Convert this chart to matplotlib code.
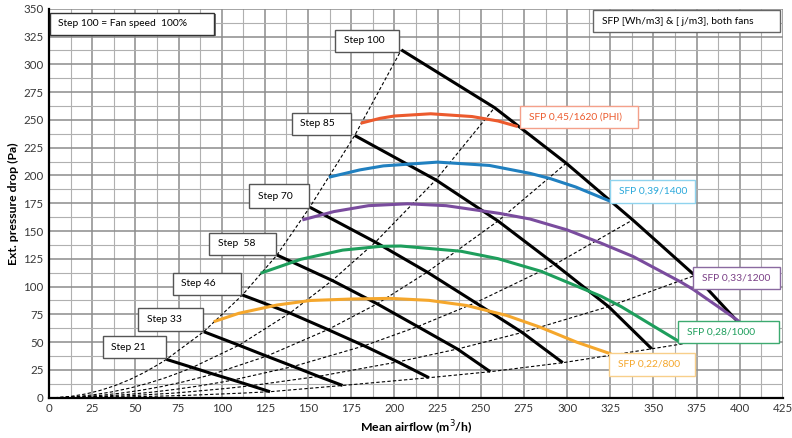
import matplotlib
matplotlib.use("Agg")
import matplotlib.pyplot as plt
from matplotlib.patches import Rectangle, PathPatch
from matplotlib.path import Path
from matplotlib.ticker import MultipleLocator

plt.rcParams['font.family'] = ['Lato', 'DejaVu Sans']

# fan curves (black), one point per system curve, steepest first
step_names = ["Step 21", "Step 33", "Step 46", "Step  58", "Step 70", "Step 85", "Step 100"]
fan_x = [
    [68, 83, 95, 106.5, 117, 128],
    [89.6, 110, 126, 141.5, 156, 170],
    [112, 139.5, 161.5, 182.5, 202, 220],
    [132, 164, 190, 213.5, 236.5, 255.5],
    [151, 189, 219, 247, 274, 297.5],
    [177, 224, 260, 293, 324, 349],
    [204, 258, 299.5, 338, 374, 405],
]
fan_y = [
    [34.5, 27.2, 21.3, 15.9, 10.8, 5.4],
    [59.4, 47.2, 37.4, 28.1, 19.2, 11],
    [92.4, 76.2, 61.3, 46.7, 32.2, 18],
    [128.4, 105.5, 84.5, 64, 43.8, 23.4],
    [171.4, 140, 113, 85.5, 58.7, 31.5],
    [236, 196, 159, 120, 82, 44],
    [313, 261, 211, 160, 110, 58],
]

# SFP curves
sfp_labels = ["SFP 0,45/1620 (PHI)", "SFP 0,39/1400", "SFP 0,33/1200", "SFP 0,28/1000", "SFP 0,22/800"]
sfp_colors = ["#EC5A2D", "#2080C0", "#7A4C9E", "#1E9E5C", "#F5A72C"]
sfp_text_colors = ["#EC5A2D", "#2AA8DA", "#7A3F86", "#1E9E5C", "#F5A72C"]
sfp_edge_colors = ["#F4A08A", "#8FD3EE", "#8A6AA0", "#3DAA70", "#F8CF8A"]
sfp_x = [
    [180.5, 191.7, 200, 221, 245, 260, 271.4],
    [162, 180, 193.6, 225, 255, 278.5, 290, 305, 325.6],
    [146.7, 165, 185, 207.6, 230, 261.1, 278.5, 300, 319, 338.3, 365.4, 373, 398, 400],
    [122.5, 145.7, 170, 192, 203.7, 238.5, 260, 285, 319.8, 331.4, 365],
    [95.4, 110, 132, 151.5, 175, 197.5, 220, 241.8, 265, 284.3, 305.5, 325.6],
]
sfp_y = [
    [247, 251.4, 253.5, 255.5, 253, 249, 244],
    [198.4, 205, 208.6, 212, 209, 201.9, 197.3, 189.6, 176.4],
    [160, 167.5, 172.8, 174.5, 172.8, 165.8, 160.8, 151, 139.5, 127, 104.5, 97.5, 70.5, 68],
    [112, 124.5, 132.8, 136.2, 136.5, 131.8, 125.1, 113.7, 91.2, 81.9, 50.4],
    [68.4, 76, 83.4, 87.5, 88.8, 89.4, 87.6, 83, 74, 63.5, 50, 39.3],
]

# label boxes (x0, y0, width, height) in axis units
step_boxes = [
    (31.1, 35.5, 36.5, 20), (51.7, 60.3, 37.3, 20), (71.6, 92.4, 39.4, 20),
    (92.8, 128.4, 38.6, 20), (115.8, 171, 34.9, 21), (140.5, 236.4, 34.4, 20),
    (165.6, 311.3, 37.2, 20),
]
sfp_boxes = [
    (272.7, 242.4, 68.5, 20), (324.8, 175.2, 49.2, 20.5), (373, 97.5, 50.2, 20.4),
    (364.4, 48.9, 58.5, 20.4), (324.4, 19.5, 49.6, 21),
]

fig, ax = plt.subplots(figsize=(7.92, 4.38), dpi=100)
fig.subplots_adjust(left=0.0619, right=0.9886, bottom=0.092, top=0.980)

ax.set_xlim(0, 425)
ax.set_ylim(0, 350)
ax.xaxis.set_major_locator(MultipleLocator(25))
ax.yaxis.set_major_locator(MultipleLocator(25))
ax.xaxis.set_minor_locator(MultipleLocator(12.5))
ax.yaxis.set_minor_locator(MultipleLocator(12.5))
ax.grid(which='major', color='#8c8c8c', linewidth=1.1)
ax.grid(which='minor', color='#b0b0b0', linewidth=0.8)
ax.set_axisbelow(True)
ax.tick_params(which='both', length=0, labelsize=8.3, colors='#383838', pad=4)
ax.tick_params(which='minor', labelleft=False, labelbottom=False)
for s in ['top', 'right']:
    ax.spines[s].set_visible(False)
for s in ['left', 'bottom']:
    ax.spines[s].set_linewidth(1.6)
    ax.spines[s].set_color('black')

ax.set_xlabel('Mean airflow (m$^3$/h)', fontsize=8.8, fontweight='bold', labelpad=3)
ax.set_ylabel('Ext. pressure drop (Pa)', fontsize=8.8, fontweight='bold', labelpad=3)

# system curves (dashed): parabola from the origin to the lowest step, then through each step
for j in range(6):
    xs = [fx[j] for fx in fan_x]
    ys = [fy[j] for fy in fan_y]
    verts = [(0, 0), (xs[0] / 2, 0), (xs[0], ys[0])] + list(zip(xs[1:], ys[1:]))
    codes = [Path.MOVETO, Path.CURVE3, Path.CURVE3] + [Path.LINETO] * (len(xs) - 1)
    ax.add_patch(PathPatch(Path(verts, codes), facecolor='none', edgecolor='black',
                           linestyle=(0, (3, 2)), linewidth=0.8, zorder=3))

for fx, fy in zip(fan_x, fan_y):
    ax.plot(fx, fy, color='black', linewidth=2.2, solid_capstyle='butt',
            solid_joinstyle='round', zorder=4)

for sx, sy, c in zip(sfp_x, sfp_y, sfp_colors):
    ax.plot(sx, sy, color=c, linewidth=2.2, solid_capstyle='butt',
            solid_joinstyle='round', zorder=5)

for name, (x0, y0, w, h) in zip(step_names, step_boxes):
    ax.add_patch(Rectangle((x0, y0), w, h, facecolor='white', edgecolor='#555555',
                           linewidth=1.0, zorder=6))
    ax.text(x0 + 5, y0 + h / 2, name, fontsize=7.4, va='center', ha='left', zorder=7)

for lab, (x0, y0, w, h), tc, ec in zip(sfp_labels, sfp_boxes, sfp_text_colors, sfp_edge_colors):
    ax.add_patch(Rectangle((x0, y0), w, h, facecolor='white', edgecolor=ec,
                           linewidth=1.0, zorder=6))
    ax.text(x0 + 5, y0 + h / 2, lab, fontsize=7.4, color=tc, va='center', ha='left', zorder=7)

# header boxes
ax.add_patch(Rectangle((1.5, 325.3), 95, 20, facecolor='#777777', edgecolor='none', zorder=6))
ax.add_patch(Rectangle((0.6, 326.3), 95, 20, facecolor='white', edgecolor='#333333',
                       linewidth=1.0, zorder=6))
ax.text(5, 336.3, 'Step 100 = Fan speed  100%', fontsize=7.4, va='center', ha='left', zorder=7)

ax.add_patch(Rectangle((315.2, 328.8), 108, 20, facecolor='white', edgecolor='#666666',
                       linewidth=1.0, zorder=6))
ax.text(320, 338.8, 'SFP [Wh/m3] & [ j/m3], both fans', fontsize=7.4, va='center', ha='left', zorder=7)

fig.savefig('out.png', dpi=100)
